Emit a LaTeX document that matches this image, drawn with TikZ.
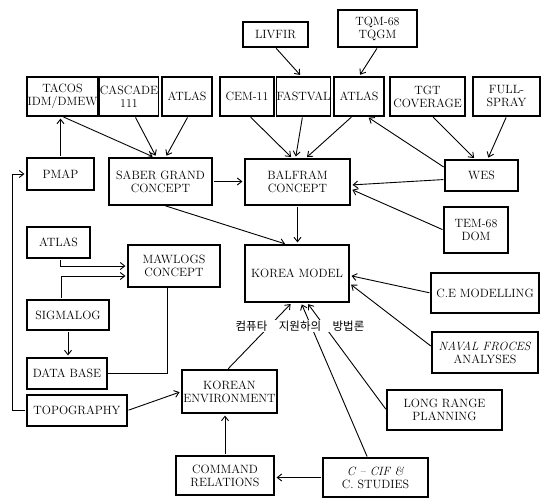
\documentclass[tikz,border=0pt]{standalone}
\usepackage{fontspec}
\newfontfamily\kofont{Noto Sans CJK KR}
\usetikzlibrary{arrows.meta}

\tikzset{
    blk/.style={draw, line width=1.1pt, align=center, inner sep=0.5pt,
        font=\fontsize{12}{13}\selectfont},
    link/.style={line width=0.9pt, -{Straight Barb[length=4.5pt,width=7pt]},
        shorten >=2pt, shorten <=1pt},
    plain/.style={line width=0.9pt}
}

\begin{document}
\begin{tikzpicture}[x=1pt,y=-1pt]
    \useasboundingbox (0,0) rectangle (545,498);

    % Top row
    \node[blk, minimum width=65pt, minimum height=25pt] (livfir) at (275.5,34.5) {LIVFIR};
    \node[blk, minimum width=79pt, minimum height=37pt] (tqm) at (377.5,28.5) {TQM-68\\TQGM};

    \node[blk, minimum width=71pt, minimum height=39pt] (tacos) at (62.5,96.5) {TACOS\\IDM/DMEW};
    \node[blk, minimum width=54pt, minimum height=39pt] (cascade) at (129,96.5) {CASCADE\\111};
    \node[blk, minimum width=50pt, minimum height=39pt] (atlasA) at (187,96.5) {ATLAS};
    \node[blk, minimum width=54pt, minimum height=39pt] (cem) at (247,96.5) {CEM-11};
    \node[blk, minimum width=53pt, minimum height=39pt] (fastval) at (303.5,96.5) {FASTVAL};
    \node[blk, minimum width=50pt, minimum height=39pt] (atlasB) at (359,96.5) {ATLAS};
    \node[blk, minimum width=75pt, minimum height=39pt] (tgt) at (427.5,96.5) {TGT\\COVERAGE};
    \node[blk, minimum width=67pt, minimum height=39pt] (full) at (506.5,96.5) {FULL-\\SPRAY};

    % Concepts
    \node[blk, minimum width=67pt, minimum height=32pt] (pmap) at (60.5,174) {PMAP};
    \node[blk, minimum width=103pt, minimum height=47pt] (saber) at (160.5,181.5) {SABER GRAND\\CONCEPT};
    \node[blk, minimum width=105pt, minimum height=46pt] (balfram) at (297.5,182) {BALFRAM\\CONCEPT};
    \node[blk, minimum width=73pt, minimum height=31pt] (wes) at (481.5,175.5) {WES};
    \node[blk, minimum width=64pt, minimum height=46pt] (tem) at (476,230) {TEM-68\\DOM};

    \node[blk, minimum width=104pt, minimum height=57pt] (korea) at (297,273.5) {KOREA MODEL};
    \node[blk, minimum width=108pt, minimum height=40pt] (cemod) at (485,293) {C.E MODELLING};
    \node[blk, minimum width=106pt, minimum height=41pt] (naval) at (485,352.5) {\textit{NAVAL FROCES}\\ANALYSES};
    \node[blk, minimum width=115pt, minimum height=40pt] (lrp) at (444.5,410) {LONG RANGE\\PLANNING};
    \node[blk, minimum width=105pt, minimum height=39pt] (ccif) at (375.5,477.5) {\textit{C -- CIF \&}\\C. STUDIES};
    \node[blk, minimum width=98pt, minimum height=39pt] (cmd) at (225,475.5) {COMMAND\\RELATIONS};
    \node[blk, minimum width=95pt, minimum height=43pt] (kenv) at (229.5,391.5) {KOREAN\\ENVIRONMENT};

    % Left column
    \node[blk, minimum width=63pt, minimum height=31pt] (atlasL) at (58.5,242.5) {ATLAS};
    \node[blk, minimum width=92pt, minimum height=42pt] (mawlogs) at (174,266) {MAWLOGS\\CONCEPT};
    \node[blk, minimum width=82pt, minimum height=30pt] (sigma) at (68,315) {SIGMALOG};
    \node[blk, minimum width=80pt, minimum height=31pt] (dbase) at (67,373.5) {DATA BASE};
    \node[blk, minimum width=100pt, minimum height=31pt] (topo) at (77,410.5) {TOPOGRAPHY};

    % Connectors
    \draw[link] (tacos.south) -- ([xshift=-6pt]saber.north);
    \draw[link] ([xshift=6pt]cascade.south) -- ([xshift=-4pt]saber.north);
    \draw[link] ([xshift=1pt]atlasA.south) -- ([xshift=5pt]saber.north);
    \draw[link] (pmap.north) -- (pmap.north |- tacos.south);
    \draw[link] (topo.west) -- ++(-14,0) |- (pmap.west);
    \draw[link] (saber.east) -- (saber.east -| balfram.west);

    \draw[link] ([xshift=3pt]cem.south) -- ([xshift=-5pt]balfram.north);
    \draw[link] ([xshift=-1pt]fastval.south) -- ([xshift=-2pt]balfram.north);
    \draw[link] ([xshift=-7pt]atlasB.south) -- ([xshift=8pt]balfram.north);
    \draw[link] (livfir.south) -- ([xshift=-2pt]fastval.north);
    \draw[link] (tqm.south) -- (atlasB.north);
    \draw[link] ([xshift=5pt]tgt.south) -- ([xshift=-6pt]wes.north);
    \draw[link] (full.south) -- ([xshift=6pt]wes.north);
    \draw[link] ([yshift=8pt]wes.west) -- ([xshift=8pt]atlasB.south);
    \draw[link] ([yshift=-4pt]wes.west) -- ([yshift=-3pt]balfram.east);
    \draw[link] (tem.west) -- ([yshift=-7pt]balfram.east);

    \draw[link] (balfram.south) -- (balfram.south |- korea.north);
    \draw[link] ([xshift=4pt]saber.south) -- ([xshift=-10pt]korea.north);

    \draw[link] ([xshift=2pt]atlasL.south) |- (mawlogs.west);
    \draw[link] ([xshift=-7pt]sigma.north) |- ([yshift=-10pt]mawlogs.west);
    \draw[link] (sigma.south) -- (sigma.south |- dbase.north);
    \draw[plain] ([xshift=-7pt]mawlogs.south) |- (dbase.east);
    \draw[link] (topo.east) -- (kenv.west);

    \draw[link] ([xshift=-2pt]kenv.north) -- ([xshift=-5pt]korea.south);
    \draw[link] ([xshift=-8pt]ccif.north) -- ([xshift=4pt]korea.south);
    \draw[link] (lrp.west) -- ([xshift=10pt]korea.south);
    \draw[link] ([yshift=6pt]naval.west) -- ([yshift=-10pt]korea.east);
    \draw[link] (cemod.west) -- ([yshift=-2pt]korea.east);
    \draw[link] (ccif.west) -- (ccif.west -| cmd.east);
    \draw[link] (cmd.north) -- (cmd.north |- kenv.south);

    % Korean caption over the lines
    \node[fill=white, inner sep=1pt, font=\kofont\fontsize{11.5}{12}\selectfont] (caption) at (300,326)
        {컴퓨타\hspace{1em}지원하의\hspace{1em}방법론};
\end{tikzpicture}
\end{document}
